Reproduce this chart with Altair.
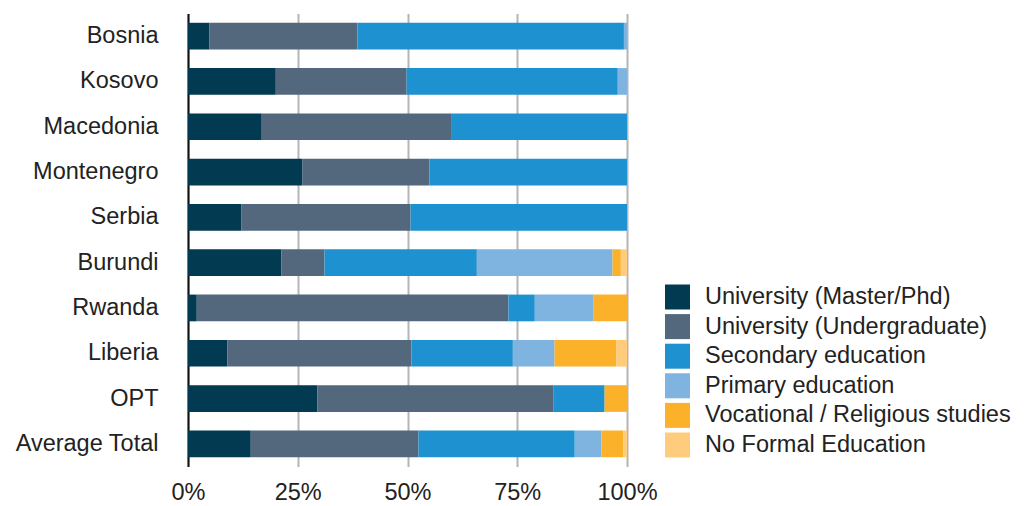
import altair as alt
import pandas as pd

countries = ["Bosnia", "Kosovo", "Macedonia", "Montenegro", "Serbia",
             "Burundi", "Rwanda", "Liberia", "OPT", "Average Total"]
levels = ["University (Master/Phd)", "University (Undergraduate)",
          "Secondary education", "Primary education",
          "Vocational / Religious studies", "No Formal Education"]
colors = ["#023a51", "#53687d", "#1e92d0", "#7fb3e0", "#fbb22a", "#fecc7c"]

master    = [4.9, 20.0, 16.8, 26.1, 12.2, 21.3, 2.0, 9.0, 29.5, 14.3]
undergrad = [33.7, 29.8, 43.3, 28.9, 38.5, 9.8, 71.0, 41.9, 53.8, 38.2]
secondary = [60.7, 48.1, 39.9, 45.0, 49.3, 34.7, 6.0, 23.1, 11.6, 35.6]
primary   = [0.7, 2.1, 0.0, 0.0, 0.0, 30.9, 13.4, 9.5, 0.0, 6.1]
vocational = [0.0, 0.0, 0.0, 0.0, 0.0, 1.9, 7.6, 14.1, 5.1, 5.0]
noformal  = [0.0, 0.0, 0.0, 0.0, 0.0, 1.4, 0.0, 2.4, 0.0, 0.8]

series = [master, undergrad, secondary, primary, vocational, noformal]
rows = []
for li, (lev, vals) in enumerate(zip(levels, series)):
    for c, v in zip(countries, vals):
        rows.append({"country": c, "level": lev, "value": v, "order": li})
df = pd.DataFrame(rows)

FONT = "Liberation Sans"
FS = 23.5

chart = alt.Chart(df).mark_bar().encode(
    y=alt.Y("country:N", sort=countries, title=None,
            scale=alt.Scale(paddingInner=0.41, paddingOuter=0.205),
            axis=alt.Axis(ticks=False, labelPadding=30, labelFontSize=FS,
                          labelColor="#222222", labelFont=FONT,
                          domainColor="#111111", domainWidth=2, grid=False)),
    x=alt.X("value:Q", stack="normalize", title=None,
            axis=alt.Axis(values=[0, 0.25, 0.5, 0.75, 1], format=".0%",
                          domain=False, ticks=False, labelPadding=14,
                          labelFlush=False,
                          labelFontSize=FS, labelColor="#222222", labelFont=FONT,
                          grid=True, gridColor="#b5b5b5", gridWidth=2)),
    color=alt.Color("level:N", sort=levels,
                    scale=alt.Scale(domain=levels, range=colors),
                    legend=alt.Legend(title=None, orient="none", legendX=477,
                                      legendY=271, symbolType="square",
                                      symbolSize=625, symbolStrokeWidth=0,
                                      symbolOpacity=1, labelFontSize=FS,
                                      labelFont=FONT, labelColor="#222222",
                                      labelOffset=15, rowPadding=4.6,
                                      padding=0, labelLimit=400)),
    order=alt.Order("order:Q", sort="ascending"),
).properties(
    width=439, height=453,
    autosize=alt.AutoSizeParams(type="none"),
    padding={"left": 180, "top": 5.5, "right": 390, "bottom": 40},
).configure_view(stroke=None).configure_axis(zindex=0)

chart.save("out.html", embed_options={"renderer": "svg", "actions": False})
